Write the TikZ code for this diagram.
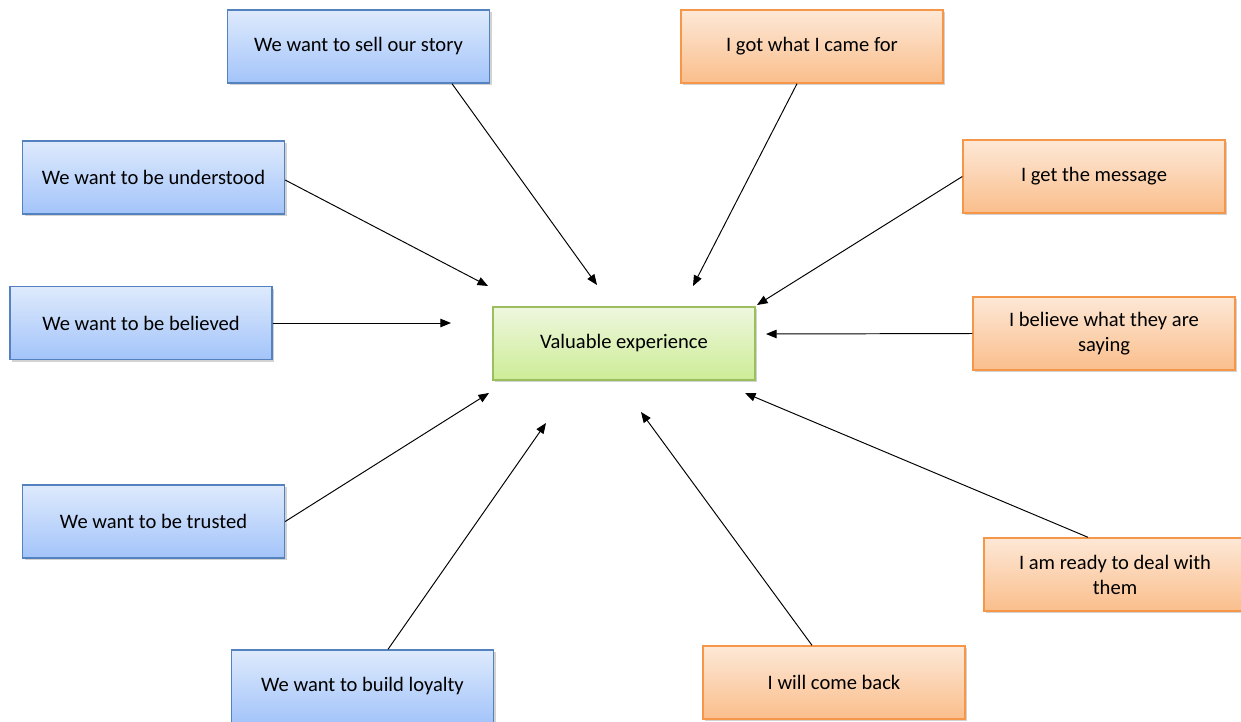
\documentclass[tikz,border=0pt]{standalone}
\usepackage{fontspec}
\setmainfont{Carlito}
\usetikzlibrary{arrows.meta,calc,shadows}

\definecolor{blueTop}{RGB}{222,234,252}
\definecolor{blueBot}{RGB}{163,196,250}
\definecolor{blueLine}{RGB}{84,130,190}
\definecolor{orTop}{RGB}{253,232,214}
\definecolor{orBot}{RGB}{250,190,140}
\definecolor{orLine}{RGB}{245,150,72}
\definecolor{grTop}{RGB}{238,247,222}
\definecolor{grBot}{RGB}{205,236,150}
\definecolor{grLine}{RGB}{155,190,95}

\tikzset{
  card/.style={rectangle, minimum width=5.24cm, minimum height=1.46cm,
    line width=0.8pt, align=center, inner sep=2pt,
    font=\fontsize{11.7}{14.2}\selectfont,
    drop shadow={opacity=0.35, shadow xshift=1.2pt, shadow yshift=-1.2pt}},
  weside/.style={card, draw=blueLine, top color=blueTop, bottom color=blueBot},
  iside/.style={card, draw=orLine, top color=orTop, bottom color=orBot},
  core/.style={card, draw=grLine, top color=grTop, bottom color=grBot},
  link/.style={line width=0.55pt, -{Triangle[length=6pt,width=4.8pt]}}
}

\begin{document}
\begin{tikzpicture}[x=0.02cm, y=-0.02cm]
\clip (0,0) rectangle (1241,721);
\fill[white] (0,0) rectangle (1241,721);

% centre
\node[core] (g) at (624,343.5) {Valuable experience};

% what we want
\node[weside] (b1) at (358.5,46.5) {We want to sell our story};
\node[weside] (b2) at (153.5,177.5) {We want to be understood};
\node[weside] (b3) at (141,323) {We want to be believed};
\node[weside] (b4) at (153.5,521.5) {We want to be trusted};
\node[weside] (b5) at (362.5,686.5) {We want to build loyalty};

% what they experience
\node[iside] (o1) at (812,46.5) {I got what I came for};
\node[iside] (o2) at (1094,176.5) {I get the message};
\node[iside] (o3) at (1104,333.5) {I believe what they are\\saying};
\node[iside] (o4) at (1115,574.5) {I am ready to deal with\\them};
\node[iside] (o5) at (834,682.5) {I will come back};

% arrow tips around the centre
\coordinate (t1) at (597,285);
\coordinate (t2) at (488,286);
\coordinate (t3) at (451,323);
\coordinate (t4) at (489,393);
\coordinate (t5) at (546,423);
\coordinate (t6) at (693,286);
\coordinate (t7) at (757,305);
\coordinate (t8) at (766,334);
\coordinate (t9) at (745,393);
\coordinate (t10) at (641,412);

\draw[link] ($(b1.south)+(93.5,0)$) -- (t1);
\draw[link] ($(b2.east)+(0,2.5)$) -- (t2);
\draw[link] (b3.east) -- (t3);
\draw[link] (b4.east) -- (t4);
\draw[link] ($(b5.north)+(25.5,0)$) -- (t5);
\draw[link] ($(o1.south)+(-15,0)$) -- (t6);
\draw[link] (o2.west) -- (t7);
\draw[link] (o3.west) -- (t8);
\draw[link] ($(o4.north)+(-27,0)$) -- (t9);
\draw[link] ($(o5.north)+(-22,0)$) -- (t10);
\end{tikzpicture}
\end{document}
